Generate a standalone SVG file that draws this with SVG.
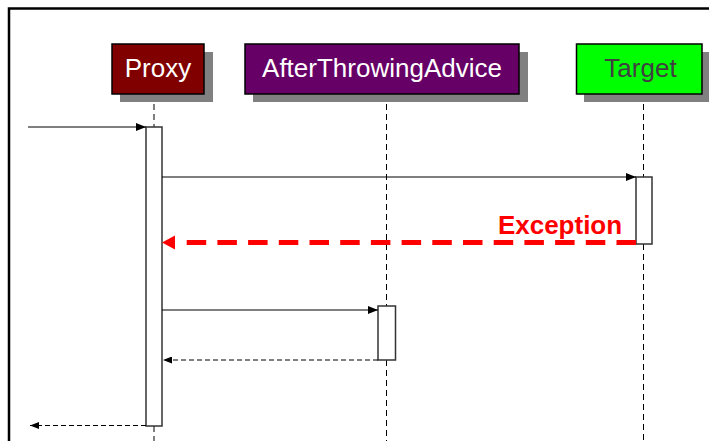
<svg xmlns="http://www.w3.org/2000/svg" width="709" height="441" viewBox="0 0 709 441">
<defs>
<style>
.box{stroke:#000;stroke-width:1.5}
.shadow{fill:#808080}
.lbl{font-family:"Liberation Sans",Arial,sans-serif;font-size:26px;text-anchor:middle}
.life{stroke:#000;stroke-width:1;stroke-dasharray:6 4;fill:none}
.bar{fill:#fff;stroke:#333;stroke-width:1.5}
.msg{stroke:#000;stroke-width:1;fill:none}
.ret{stroke:#000;stroke-width:1;fill:none;stroke-dasharray:5 3}
</style>
<marker id="ah" markerUnits="userSpaceOnUse" markerWidth="10" markerHeight="8" refX="10" refY="4" orient="auto">
<path d="M0,0 L10,4 L0,8 z" fill="#000"/>
</marker>
<marker id="ahs" markerUnits="userSpaceOnUse" markerWidth="9" markerHeight="7" refX="9" refY="3.5" orient="auto">
<path d="M0,0 L9,3.5 L0,7 z" fill="#000"/>
</marker>
</defs>
<rect width="709" height="441" fill="#fff"/>
<path d="M9,441 V8.5 H709" fill="none" stroke="#000" stroke-width="2.5"/>

<g id="lifelines">
<line class="life" x1="154" y1="94" x2="154" y2="127"/>
<line class="life" x1="154" y1="426" x2="154" y2="441"/>
<line class="life" x1="386.5" y1="94" x2="386.5" y2="306"/>
<line class="life" x1="386.5" y1="360" x2="386.5" y2="441"/>
<line class="life" x1="643.5" y1="94" x2="643.5" y2="177"/>
<line class="life" x1="643.5" y1="244" x2="643.5" y2="441"/>
</g>

<g id="proxy">
<rect class="shadow" x="120" y="52" width="93" height="50"/>
<rect class="box" x="112" y="44" width="92" height="50" fill="#800000"/>
<text class="lbl" x="158" y="77" fill="#fff">Proxy</text>
</g>
<g id="afterThrowingAdvice">
<rect class="shadow" x="253" y="52" width="275" height="50"/>
<rect class="box" x="245" y="44" width="274" height="50" fill="#660066"/>
<text class="lbl" x="382" y="77" fill="#fff">AfterThrowingAdvice</text>
</g>
<g id="target">
<rect class="shadow" x="584" y="52" width="126" height="50"/>
<rect class="box" x="576.5" y="44" width="125.5" height="50" fill="#00ff00"/>
<text class="lbl" x="640.5" y="77" fill="#404040">Target</text>
</g>

<g id="activations">
<rect class="bar" x="146" y="127" width="16" height="299"/>
<rect class="bar" x="378" y="306" width="17.5" height="54"/>
<rect class="bar" x="636" y="177" width="16" height="67"/>
</g>

<g id="connectors">
<line class="msg" x1="28" y1="127" x2="146" y2="127" marker-end="url(#ah)"/>
<line class="msg" x1="162" y1="177" x2="636" y2="177" marker-end="url(#ah)"/>
<line x1="636" y1="242.5" x2="176" y2="242.5" stroke="#ff0000" stroke-width="5" stroke-dasharray="19.5 11.2"/>
<polygon points="162,242.5 175,235.5 175,249.5" fill="#ff0000"/>
<text x="560" y="234" font-family="'Liberation Sans',Arial,sans-serif" font-size="26" font-weight="bold" fill="#ff0000" text-anchor="middle">Exception</text>
<line class="msg" x1="162" y1="310" x2="378" y2="310" marker-end="url(#ah)"/>
<line class="ret" x1="378" y1="360" x2="163" y2="360" marker-end="url(#ahs)"/>
<line class="ret" x1="146" y1="425.5" x2="30" y2="425.5" marker-end="url(#ahs)"/>
</g>
</svg>
